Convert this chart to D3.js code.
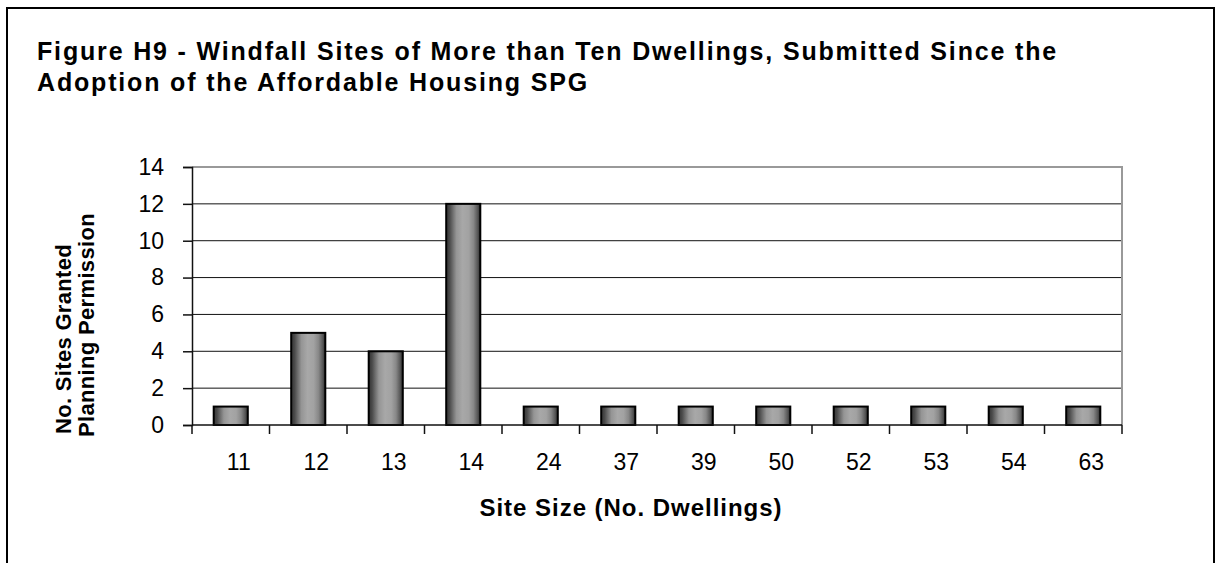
<!DOCTYPE html>
<html>
<head>
<meta charset="utf-8">
<script src="https://cdn.jsdelivr.net/npm/d3@7"></script>
<style>
  html, body { margin: 0; padding: 0; background: #fff; }
  svg { display: block; font-family: "Liberation Sans", Arial, sans-serif; }
</style>
</head>
<body>
<svg id="chart" width="1219" height="563"></svg>
<script>
// Site sizes (number of dwellings) and the count of sites granted permission
const siteSizes = ["11", "12", "13", "14", "24", "37", "39", "50", "52", "53", "54", "63"];
const sitesGranted = [1, 5, 4, 12, 1, 1, 1, 1, 1, 1, 1, 1];
const yTicks = [0, 2, 4, 6, 8, 10, 12, 14];
const titleLines = [
  "Figure H9 - Windfall Sites of More than Ten Dwellings, Submitted Since the",
  "Adoption of the Affordable Housing SPG"
];
const xAxisTitle = "Site Size (No. Dwellings)";
const yAxisTitleLines = ["No. Sites Granted", "Planning Permission"];

const svg = d3.select("#chart");

// stretch text horizontally to a given width via letter spacing
function fitWidth(sel, target) {
  const node = sel.node();
  const n = node.getNumberOfChars();
  const len = node.getComputedTextLength();
  sel.attr("letter-spacing", ((target - len) / n).toFixed(3));
}

// outer frame
svg.append("rect")
  .attr("x", 7).attr("y", 8)
  .attr("width", 1207).attr("height", 600)
  .attr("fill", "none").attr("stroke", "#000").attr("stroke-width", 2);

// title
const t1 = svg.append("text").attr("x", 37).attr("y", 60)
  .attr("font-size", 25).attr("font-weight", "bold").text(titleLines[0]);
fitWidth(t1, 1021);
svg.append("text").attr("x", 37).attr("y", 91)
  .attr("font-size", 25).attr("font-weight", "bold")
  .attr("letter-spacing", t1.attr("letter-spacing"))
  .text(titleLines[1]);

// plot area
const plot = { left: 192, right: 1122, top: 167, bottom: 425 };

const x = d3.scaleBand().domain(siteSizes).range([plot.left, plot.right]).padding(0);
const y = d3.scaleLinear().domain([0, 14]).range([plot.bottom, plot.top]);

// gridlines
svg.append("g")
  .selectAll("line")
  .data(yTicks.filter(v => v > 0 && v < 14))
  .join("line")
  .attr("x1", plot.left).attr("x2", plot.right)
  .attr("y1", d => y(d)).attr("y2", d => y(d))
  .attr("stroke", "#111").attr("stroke-width", 1);

// plot border (top and right)
svg.append("path")
  .attr("d", `M${plot.left},${y(14)}H${plot.right}V${plot.bottom}`)
  .attr("fill", "none").attr("stroke", "#999").attr("stroke-width", 2);

// bar shading
const defs = svg.append("defs");
const grad = defs.append("linearGradient").attr("id", "barShade")
  .attr("x1", "0%").attr("x2", "100%").attr("y1", "0%").attr("y2", "0%");
[
  [0, "#333"], [0.1, "#4a4a4a"], [0.2, "#707070"], [0.3, "#959595"],
  [0.48, "#a8a8a8"], [0.66, "#a2a2a2"], [0.8, "#888"], [0.92, "#585858"], [1, "#2e2e2e"]
].forEach(([o, c]) => grad.append("stop").attr("offset", o).attr("stop-color", c));

const barFrac = 0.44;
svg.append("g")
  .selectAll("rect")
  .data(siteSizes.map((s, i) => ({ s, v: sitesGranted[i] })))
  .join("rect")
  .attr("x", d => x(d.s) + x.bandwidth() * (1 - barFrac) / 2)
  .attr("width", x.bandwidth() * barFrac)
  .attr("y", d => y(d.v))
  .attr("height", d => y(0) - y(d.v))
  .attr("fill", "url(#barShade)")
  .attr("stroke", "#000").attr("stroke-width", 2);

// y axis
const yAxis = svg.append("g")
  .attr("transform", `translate(${plot.left},0)`)
  .call(d3.axisLeft(y).tickValues(yTicks).tickSize(9).tickPadding(19));
yAxis.select(".domain").attr("stroke", "#111").attr("stroke-width", 1.5);
yAxis.selectAll(".tick line").attr("stroke", "#111").attr("stroke-width", 1.5);
yAxis.selectAll(".tick text")
  .attr("font-size", 23).attr("fill", "#000")
  .attr("font-family", "Liberation Sans, Arial, sans-serif");

// x axis: ticks sit on category boundaries
const xAxisG = svg.append("g").attr("transform", `translate(0,${plot.bottom})`);
xAxisG.append("line")
  .attr("x1", plot.left).attr("x2", plot.right)
  .attr("stroke", "#111").attr("stroke-width", 1.5);
const boundaries = siteSizes.map(s => x(s)).concat([x(siteSizes[siteSizes.length - 1]) + x.bandwidth()]);
xAxisG.selectAll(".bnd").data(boundaries).join("line").attr("class", "bnd")
  .attr("x1", d => d).attr("x2", d => d).attr("y1", 0).attr("y2", 9)
  .attr("stroke", "#111").attr("stroke-width", 1.5);
xAxisG.selectAll(".lbl").data(siteSizes).join("text").attr("class", "lbl")
  .attr("x", d => x(d) + x.bandwidth() / 2 + 8)
  .attr("y", 45)
  .attr("text-anchor", "middle")
  .attr("font-size", 23)
  .text(d => d);

// axis titles
const xt = svg.append("text").attr("x", 631).attr("y", 516)
  .attr("text-anchor", "middle").attr("font-size", 24).attr("font-weight", "bold")
  .text(xAxisTitle);
fitWidth(xt, 303);

const yt1 = svg.append("text")
  .attr("transform", "translate(71,339) rotate(-90)")
  .attr("text-anchor", "middle").attr("font-size", 22).attr("font-weight", "bold")
  .text(yAxisTitleLines[0]);
fitWidth(yt1, 190);
const yt2 = svg.append("text")
  .attr("transform", "translate(94,325) rotate(-90)")
  .attr("text-anchor", "middle").attr("font-size", 22).attr("font-weight", "bold")
  .text(yAxisTitleLines[1]);
fitWidth(yt2, 224);
</script>
</body>
</html>
